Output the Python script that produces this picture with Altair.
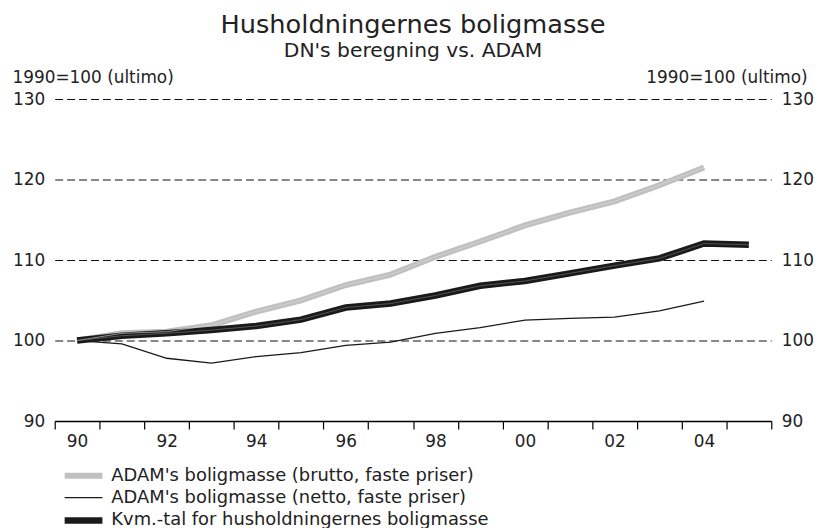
import altair as alt
import pandas as pd

years = list(range(1990, 2006))
series_names = [
    "ADAM's boligmasse (brutto, faste priser)",
    "ADAM's boligmasse (netto, faste priser)",
    "Kvm.-tal for husholdningernes boligmasse",
]
brutto = [100, 100.9, 101.1, 101.9, 103.6, 105.0, 106.9, 108.2, 110.4, 112.3, 114.3, 115.9, 117.3, 119.3, 121.5, None]
netto = [100, 99.6, 97.8, 97.2, 98.0, 98.5, 99.4, 99.8, 100.9, 101.6, 102.55, 102.75, 102.9, 103.7, 104.9, None]
kvm = [100, 100.6, 100.9, 101.3, 101.8, 102.6, 104.1, 104.6, 105.6, 106.8, 107.4, 108.35, 109.3, 110.2, 112.05, 111.9]

rows = []
for name, vals in zip(series_names, [brutto, netto, kvm]):
    for y, v in zip(years, vals):
        if v is not None:
            rows.append({"year": y, "value": v, "series": name})
df = pd.DataFrame(rows)

FONT = "DejaVu Sans"
TXT = "#222222"

x_scale = alt.Scale(type="band", paddingInner=0, paddingOuter=0, domain=years)
x_axis = alt.Axis(
    title=None,
    tickBand="extent",
    labelExpr="(datum.value % 2 == 0) ? substring(toString(datum.value), 2, 4) : ''",
    labelAngle=0,
    labelFontSize=17,
    labelColor=TXT,
    labelPadding=5,
    tickSize=8,
    tickColor="#000000",
    tickWidth=1.2,
    domainColor="#000000",
    domainWidth=1.5,
    grid=False,
)

y_scale = alt.Scale(domain=[90, 130], nice=False, zero=False)

legend = alt.Legend(
    title=None,
    orient="none",
    legendX=20,
    legendY=370,
    symbolType="M-3.8,0H3.8",
    symbolSize=100,
    labelOffset=19,
    labelFontSize=18,
    labelColor=TXT,
    labelLimit=600,
    rowPadding=1,
    padding=0,
)

X = alt.X("year:O", sort=years, scale=x_scale, bandPosition=0.5, axis=x_axis)

lines = alt.Chart(df).mark_line(strokeJoin="miter").encode(
    x=X,
    y=alt.Y(
        "value:Q",
        scale=y_scale,
        axis=alt.Axis(
            orient="left",
            values=[90, 100, 110, 120, 130],
            title="1990=100 (ultimo)",
            titleAngle=0,
            titleX=-43,
            titleY=-17,
            titleAlign="left",
            titleBaseline="alphabetic",
            titleFontSize=17,
            titleFontWeight="normal",
            titleColor=TXT,
            labelFontSize=17,
            labelColor=TXT,
            labelPadding=10,
            ticks=False,
            domain=False,
            grid=True,
            gridDash=[8, 4],
            gridColor="#111111",
            gridWidth=1.1,
        ),
    ),
    color=alt.Color(
        "series:N",
        sort=series_names,
        scale=alt.Scale(domain=series_names, range=["#c0c0c0", "#1a1a1a", "#1a1a1a"]),
        legend=legend,
    ),
    strokeWidth=alt.StrokeWidth(
        "series:N",
        sort=series_names,
        scale=alt.Scale(type="ordinal", domain=series_names, range=[6, 1.3, 6.5]),
        legend=legend,
    ),
    order=alt.Order("year:O"),
)

inner_kvm = alt.Chart(df).transform_filter(
    alt.datum.series == series_names[2]
).mark_line(color="#7a7a7a", strokeWidth=0.6, strokeJoin="miter").encode(
    x=X, y=alt.Y("value:Q", scale=y_scale, axis=None), order=alt.Order("year:O")
)
inner_brutto = alt.Chart(df).transform_filter(
    alt.datum.series == series_names[0]
).mark_line(color="#dcdcdc", strokeWidth=0.6, strokeJoin="miter").encode(
    x=X, y=alt.Y("value:Q", scale=y_scale, axis=None), order=alt.Order("year:O")
)

right_axis = alt.Chart(df).mark_line(opacity=0).encode(
    x=X,
    y=alt.Y(
        "value:Q",
        scale=y_scale,
        axis=alt.Axis(
            orient="right",
            values=[90, 100, 110, 120, 130],
            title="1990=100 (ultimo)",
            titleAngle=0,
            titleX=36,
            titleY=-17,
            titleAlign="right",
            titleBaseline="alphabetic",
            titleFontSize=17,
            titleFontWeight="normal",
            titleColor=TXT,
            labelFontSize=17,
            labelColor=TXT,
            labelPadding=10,
            ticks=False,
            domain=False,
            grid=False,
        ),
    ),
    detail="series:N",
)

chart = (
    alt.layer(lines, inner_brutto, inner_kvm, right_axis)
    .resolve_axis(y="independent")
    .properties(
        width=721,
        height=324,
        autosize=alt.AutoSizeParams(type="none"),
        padding={"left": 47, "top": 90, "right": 44, "bottom": 106},
        title=alt.TitleParams(
            text="Husholdningernes boligmasse",
            subtitle="DN's beregning vs. ADAM",
            font=FONT,
            subtitleFont=FONT,
            fontSize=25.8,
            subtitleFontSize=20.4,
            fontWeight="normal",
            color=TXT,
            subtitleColor=TXT,
            anchor="middle",
            offset=6,
            subtitlePadding=2,
        ),
    )
    .configure(font=FONT)
    .configure_view(stroke=None)
    .configure_axis(labelFont=FONT, titleFont=FONT)
    .configure_legend(labelFont=FONT)
)

chart.save("out.html", embed_options={"renderer": "svg", "actions": False})
